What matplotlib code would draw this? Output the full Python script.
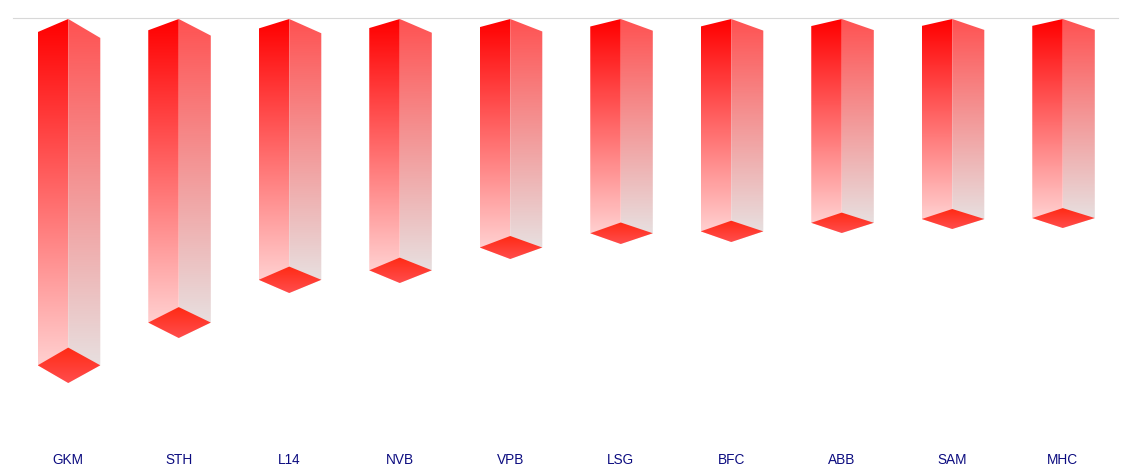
import numpy as np
import matplotlib
matplotlib.use("Agg")
import matplotlib.pyplot as plt
from matplotlib.patches import Polygon

plt.rcParams['font.family'] = ['Liberation Sans', 'DejaVu Sans']

categories = ["GKM", "STH", "L14", "NVB", "VPB", "LSG", "BFC", "ABB", "SAM", "MHC"]
values = [-36.4, -31.9, -27.4, -26.4, -24.0, -22.5, -22.3, -21.4, -21.0, -20.9]

W, H = 1141, 471
fig = plt.figure(figsize=(W / 100, H / 100), dpi=100)
ax_left, ax_right, ax_top, ax_bottom = 13, 1118, 18, 440
ax = fig.add_axes([ax_left / W, (H - ax_bottom) / H, (ax_right - ax_left) / W, (ax_bottom - ax_top) / H])

wl, wr = 0.276, 0.29


def grad(c0, c1, n=256):
    c0 = np.array(matplotlib.colors.to_rgb(c0))
    c1 = np.array(matplotlib.colors.to_rgb(c1))
    t = np.linspace(0, 1, n)[:, None]
    return (c0 * (1 - t) + c1 * t)[:, None, :]


def face(poly, c_top, c_bot):
    p = Polygon(poly, closed=True, facecolor='none', edgecolor='none')
    ax.add_patch(p)
    xs = [q[0] for q in poly]
    ys = [q[1] for q in poly]
    im = ax.imshow(grad(c_top, c_bot), extent=[min(xs), max(xs), min(ys), max(ys)],
                   origin='upper', aspect='auto', interpolation='bilinear', zorder=2)
    im.set_clip_path(p)


for i, v in enumerate(values):
    d = -v
    lt = 0.04 * d - 0.15
    rt = 0.052 * d
    h = 0.1 * d - 0.1
    left = [(i - wl, -lt), (i, 0), (i, v), (i - wl, v + h / 2)]
    right = [(i, 0), (i + wr, -rt), (i + wr, v + h / 2), (i, v)]
    diamond = [(i, v), (i - wl, v + h / 2), (i, v + h), (i + wr, v + h / 2)]
    face(left, '#ff0000', '#ffdada')
    face(right, '#ff5252', '#e6e6e6')
    face(diamond, '#ff2a14', '#ff4d4d')

ax.set_xlim(-0.5, 9.5)
ax.set_ylim(-42.1, 0.1)
ax.set_xticks(range(len(categories)))
ax.set_xticklabels(categories, fontsize=9.8, color='#0c0c80')
ax.tick_params(axis='x', length=0, pad=9)
ax.set_yticks([])
for s in ['left', 'right', 'bottom']:
    ax.spines[s].set_visible(False)
ax.spines['top'].set_color('#d8d8d8')
ax.spines['top'].set_linewidth(0.8)

fig.savefig("out.png", dpi=100)
